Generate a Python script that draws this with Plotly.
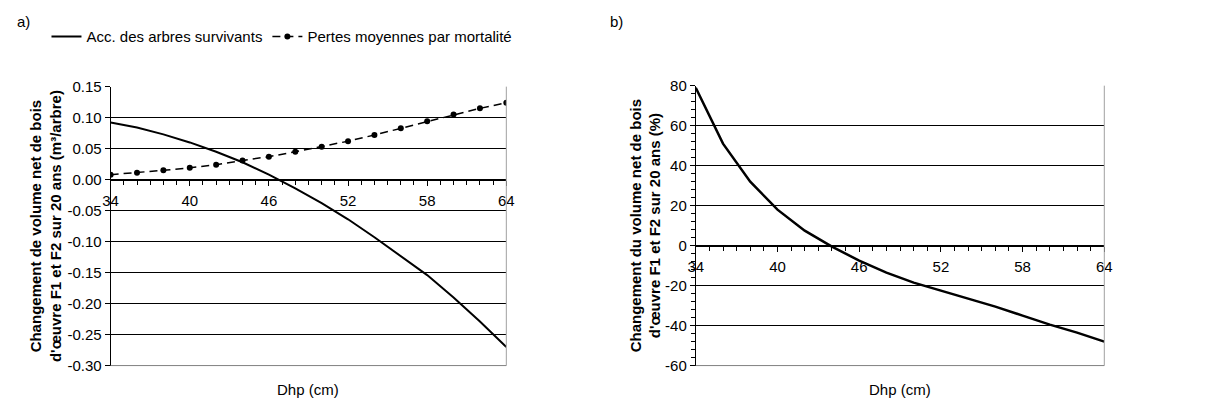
import plotly.graph_objects as go

# ---- data ----
dhp = [34, 36, 38, 40, 42, 44, 46, 48, 50, 52, 54, 56, 58, 60, 62, 64]
acc_survivants = [0.092, 0.084, 0.073, 0.060, 0.045, 0.028, 0.008, -0.014, -0.038,
                  -0.064, -0.093, -0.123, -0.154, -0.190, -0.229, -0.270]
pertes_mortalite = [0.008, 0.011, 0.015, 0.019, 0.024, 0.031, 0.037, 0.045, 0.053,
                    0.062, 0.072, 0.083, 0.094, 0.105, 0.115, 0.124]
changement_pct = [79, 51, 32, 18, 7.5, -0.5, -7.5, -13.5, -18.5, -22.5, -26.5,
                  -30.5, -35, -39.5, -43.5, -48]

x_ticks = [34, 40, 46, 52, 58, 64]
ya_ticks = [0.15, 0.10, 0.05, 0.00, -0.05, -0.10, -0.15, -0.20, -0.25, -0.30]
ya_ticktext = ["0.15", "0.10", "0.05", "0.00", "-0.05", "-0.10", "-0.15", "-0.20", "-0.25", "-0.30"]
yb_ticks = [80, 60, 40, 20, 0, -20, -40, -60]
yb_ticktext = ["80", "60", "40", "20", "0", "-20", "-40", "-60"]

FONT = "Arial, Liberation Sans, sans-serif"
W, H = 1209, 410
TICK_SIZE = 15
LEG_SIZE = 15
TITLE_SIZE = 15

ya_range = [-0.30, 0.15]
yb_range = [-60, 80]
xa_dom = [104 / W, 505 / W]
xb_dom = [697 / W, 1111 / W]
ya_dom = [1 - 372 / H, 1 - 81 / H]
yb_dom = [1 - 372 / H, 1 - 80 / H]


def zero_pos(dom, rng):
    return dom[0] + (0 - rng[0]) / (rng[1] - rng[0]) * (dom[1] - dom[0])


fig = go.Figure()

fig.add_trace(go.Scatter(x=dhp, y=acc_survivants, mode="lines",
                         name="Acc. des arbres survivants",
                         line=dict(color="black", width=2),
                         xaxis="x", yaxis="y"))
fig.add_trace(go.Scatter(x=dhp, y=pertes_mortalite, mode="lines+markers",
                         name="Pertes moyennes par mortalité",
                         line=dict(color="black", width=1.5, dash="8px,5px"),
                         marker=dict(color="black", size=6),
                         xaxis="x", yaxis="y"))
fig.add_trace(go.Scatter(x=dhp, y=changement_pct, mode="lines",
                         name="Changement", showlegend=False,
                         line=dict(color="black", width=2.5),
                         xaxis="x2", yaxis="y2"))

tickfont = dict(family=FONT, size=TICK_SIZE, color="black")
title_font = dict(family=FONT, size=TITLE_SIZE, color="black")

common_x = dict(range=[34, 64], showgrid=False, zeroline=False, tickvals=x_ticks,
                ticks="outside", ticklen=5, tickcolor="black",
                showline=True, linecolor="black", linewidth=1,
                tickfont=tickfont, ticklabelstandoff=2,
                minor=dict(dtick=1, tick0=34, ticks="outside", ticklen=4,
                           tickcolor="black"),
                side="bottom", anchor="free")

common_y = dict(showgrid=True, gridcolor="black", gridwidth=1, zeroline=False,
                showline=True, linecolor="black", linewidth=1,
                ticks="outside", ticklen=5, tickcolor="black", tickfont=tickfont)

fig.update_layout(
    width=W, height=H,
    margin=dict(l=0, r=0, t=0, b=0),
    paper_bgcolor="white", plot_bgcolor="white",
    font=dict(family=FONT, size=TICK_SIZE, color="black"),
    showlegend=True,
    legend=dict(orientation="h", x=39 / W, y=1 - 29 / H, xanchor="left",
                yanchor="middle", font=dict(family=FONT, size=LEG_SIZE, color="black"),
                itemwidth=30, tracegroupgap=0, bgcolor="rgba(0,0,0,0)"),
    xaxis=dict(domain=xa_dom, position=zero_pos(ya_dom, ya_range), **common_x),
    xaxis2=dict(domain=xb_dom, position=zero_pos(yb_dom, yb_range), **common_x),
    yaxis=dict(domain=ya_dom, range=ya_range, anchor="x",
               tickvals=ya_ticks, ticktext=ya_ticktext, **common_y,
               title=dict(text="<b>Changement de volume net de bois<br>d'œuvre F1 et F2 sur 20 ans (m³/arbre)</b>",
                          font=title_font, standoff=2)),
    yaxis2=dict(domain=yb_dom, range=yb_range, anchor="x2",
                tickvals=yb_ticks, ticktext=yb_ticktext, **common_y,
                minor=dict(dtick=4, tick0=0, ticks="outside", ticklen=4, tickcolor="black"),
                title=dict(text="<b>Changement du volume net de bois<br>d'œuvre F1 et F2 sur 20 ans (%)</b>",
                           font=title_font, standoff=0)),
)

# grey plot-frame edges (right and bottom), in axis-domain coordinates
shapes = []
for xr, yr in (("x domain", "y domain"), ("x2 domain", "y2 domain")):
    shapes.append(dict(type="line", xref=xr, yref=yr, x0=1, x1=1, y0=0, y1=1,
                       line=dict(color="#a0a0a0", width=1), layer="above"))
    shapes.append(dict(type="line", xref=xr, yref=yr, x0=0, x1=1, y0=0, y1=0,
                       line=dict(color="#808080", width=1), layer="above"))
fig.update_layout(shapes=shapes)

annots = [
    dict(text="a)", x=7 / W, y=1 - 13 / H, xref="paper", yref="paper",
         xanchor="left", yanchor="middle", showarrow=False, font=tickfont),
    dict(text="b)", x=608 / W, y=1 - 13 / H, xref="paper", yref="paper",
         xanchor="left", yanchor="middle", showarrow=False, font=tickfont),
    dict(text="Dhp (cm)", x=0.5, xref="x domain", y=1 - 397 / H, yref="paper",
         xanchor="center", yanchor="middle", showarrow=False, font=tickfont),
    dict(text="Dhp (cm)", x=0.5, xref="x2 domain", y=1 - 397 / H, yref="paper",
         xanchor="center", yanchor="middle", showarrow=False, font=tickfont),
]
fig.update_layout(annotations=annots)

fig.write_html("out.html")
